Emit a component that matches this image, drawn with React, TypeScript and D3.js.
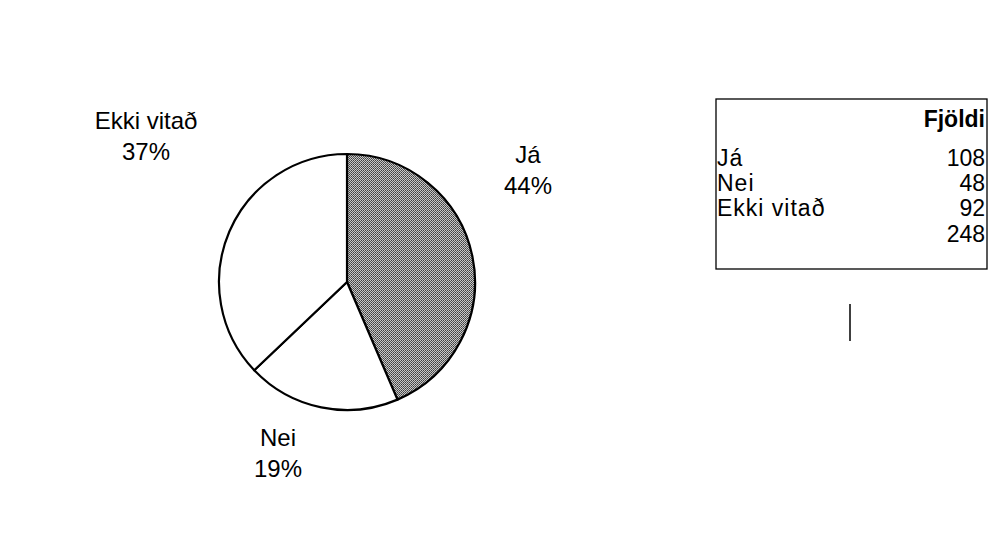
import React from "react";
import * as d3 from "d3";

const categories = ["Já", "Nei", "Ekki vitað"];
const counts = [108, 48, 92];
const totalLabel = "248";
const headerLabel = "Fjöldi";
const percentLabels = ["44%", "19%", "37%"];

const W = 991;
const H = 543;
const cx = 347;
const cy = 282;
const R = 128;

const labelPos: [number, number][] = [
  [528, 163],
  [278, 446],
  [146, 129],
];

export default function App() {
  const pie = d3.pie<number>().sort(null).startAngle(0).endAngle(2 * Math.PI);
  const arcs = pie(counts);
  const arc = d3.arc<d3.PieArcDatum<number>>().innerRadius(0).outerRadius(R);
  const fills = ["url(#dither)", "#ffffff", "#ffffff"];

  const tableX0 = 716;
  const tableX1 = 987;
  const tableY0 = 99;
  const tableY1 = 269;
  const rowY = d3.scaleLinear().domain([0, 1]).range([166, 191]);

  return (
    <svg
      width={W}
      height={H}
      style={{ position: "absolute", left: 0, top: 0, background: "#fff" }}
      fontFamily="'Liberation Sans', Arial, sans-serif"
    >
      <defs>
        <pattern id="dither" width="2" height="2" patternUnits="userSpaceOnUse">
          <rect width="2" height="2" fill="#c8c8c8" />
          <rect x="0" y="0" width="1" height="1" fill="#404040" />
          <rect x="1" y="1" width="1" height="1" fill="#5a5a5a" />
        </pattern>
      </defs>
      <rect width={W} height={H} fill="#fff" />
      <g transform={`translate(${cx},${cy})`}>
        {arcs.map((a, i) => (
          <path
            key={i}
            d={arc(a) || ""}
            fill={fills[i]}
            stroke="#000"
            strokeWidth={2.2}
            strokeLinejoin="round"
          />
        ))}
      </g>
      {categories.map((c, i) => (
        <g key={c}>
          <text x={labelPos[i][0]} y={labelPos[i][1]} fontSize={24} textAnchor="middle" fill="#000">
            {c}
          </text>
          <text x={labelPos[i][0]} y={labelPos[i][1] + 31} fontSize={24} textAnchor="middle" fill="#000">
            {percentLabels[i]}
          </text>
        </g>
      ))}
      <rect
        x={tableX0}
        y={tableY0}
        width={tableX1 - tableX0}
        height={tableY1 - tableY0}
        fill="none"
        stroke="#000"
        strokeWidth={1.3}
      />
      <text x={tableX1 - 2} y={127} fontSize={23} fontWeight="bold" textAnchor="end" fill="#000">
        {headerLabel}
      </text>
      {categories.map((c, i) => (
        <g key={"t" + c}>
          <text x={tableX0 + 1} y={rowY(i)} fontSize={23} letterSpacing={1} fill="#000">
            {c}
          </text>
          <text x={tableX1 - 2} y={rowY(i)} fontSize={23} textAnchor="end" fill="#000">
            {counts[i]}
          </text>
        </g>
      ))}
      <text x={tableX1 - 2} y={rowY(3) + 1} fontSize={23} textAnchor="end" fill="#000">
        {totalLabel}
      </text>
      <line x1={850} x2={850} y1={304} y2={341} stroke="#000" strokeWidth={1.5} />
    </svg>
  );
}
